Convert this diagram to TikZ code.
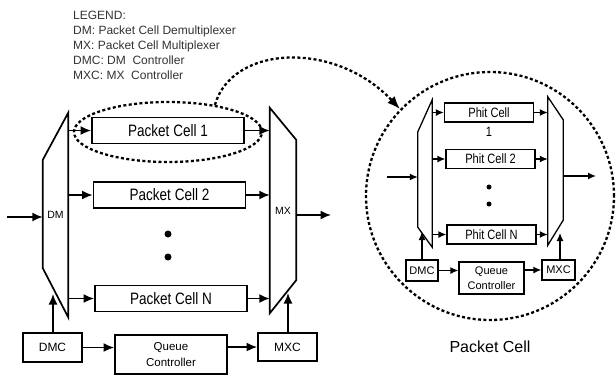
\documentclass[tikz,border=0pt]{standalone}
\usepackage{fontspec}
\setmainfont{Liberation Sans}
\newfontfamily\condsf[FakeStretch=0.82]{Liberation Sans}
\usetikzlibrary{shapes.geometric, arrows.meta, positioning, calc}
\definecolor{legendgray}{RGB}{50,50,50}

\begin{document}
\begin{tikzpicture}[x=1pt, y=-1pt,
    cellbox/.style={draw, line width=1.7pt, minimum width=152pt, minimum height=26pt, inner sep=0pt, font=\condsf\fontsize{16.5}{18}\selectfont},
    ctrlbox/.style={draw, line width=1.7pt, inner sep=0pt, align=center, font=\fontsize{11.5}{16}\selectfont},
    phitbox/.style={draw, line width=1.3pt, minimum width=89pt, minimum height=19pt, inner sep=0pt, font=\condsf\fontsize{13.5}{15}\selectfont},
    smallctrl/.style={draw, line width=1.3pt, inner sep=0pt, align=center, font=\fontsize{11}{15}\selectfont},
    muxnode/.style={inner sep=0pt, font=\fontsize{10.5}{12}\selectfont},
    muxline/.style={line width=1.7pt, line join=miter},
    arr/.style={line width=1.7pt, -{Latex[length=10.5pt, width=9pt]}},
    smallarr/.style={line width=1.3pt, -{Latex[length=8pt, width=7pt]}},
    zoomline/.style={line width=2.3pt, dash pattern=on 3pt off 2.4pt},
    dotmark/.style={circle, fill, inner sep=0pt, minimum size=#1}
]
    \useasboundingbox (0,0) rectangle (616,376);

    % Legend
    \node[anchor=north west, align=left, inner sep=0pt, text=legendgray,
          font=\fontsize{12}{15.2}\selectfont] (legend) at (73,10.5)
        {LEGEND:\\DM: Packet Cell Demultiplexer\\MX: Packet Cell Multiplexer\\DMC: DM~ Controller\\MXC: MX~ Controller};

    % Packet switch: DM, cells, MX
    \node[muxnode, minimum width=25pt, minimum height=204pt] (dm) at (55.5,215) {DM};
    \node[muxnode, minimum width=26pt, minimum height=205pt] (mx) at (283,210.5) {MX};
    \draw[muxline] (dm.north east) -- (dm.south east) -- ([yshift=49pt]dm.south west)
        -- ([yshift=-47pt]dm.north west) -- cycle;
    \draw[muxline] (mx.north west) -- (mx.south west) -- ([yshift=33pt]mx.south east)
        -- ([yshift=-32pt]mx.north east) -- cycle;

    \node[cellbox] (pc1) at (168,130.5) {Packet Cell 1};
    \node[cellbox] (pc2) at (169.5,195) {Packet Cell 2};
    \node[cellbox] (pcn) at (171,298.5) {Packet Cell N};
    \node[dotmark=7pt] (dot1) at (168,234) {};
    \node[dotmark=7pt] (dot2) at (168,257) {};

    \foreach \c in {pc1,pc2,pcn} {
        \draw[arr] (dm.east |- \c.west) -- (\c.west);
        \draw[arr] (\c.east) -- (mx.west |- \c.east);
    }

    \coordinate (in) at (7,217);
    \coordinate (out) at (331,215);
    \draw[arr] (in) -- (in -| dm.west);
    \draw[arr] (out -| mx.east) -- (out);

    % Controllers
    \node[ctrlbox, minimum width=59pt, minimum height=29pt, font=\fontsize{12}{14}\selectfont] (dmc) at (52.5,347.5) {DMC};
    \node[ctrlbox, minimum width=112pt, minimum height=39pt] (qc) at (171,354.5) {Queue\\Controller};
    \node[ctrlbox, minimum width=59pt, minimum height=28pt, font=\fontsize{12}{14}\selectfont] (mxc) at (287.5,347) {MXC};
    \draw[arr] (dmc.east) -- (qc.west |- dmc.east);
    \draw[arr] (qc.east |- mxc.west) -- (mxc.west);
    \coordinate (dmtip) at (53,294);
    \coordinate (mxtip) at (288,293);
    \draw[arr] (dmc.north -| dmtip) -- (dmtip);
    \draw[arr] (mxc.north -| mxtip) -- (mxtip);

    % Zoom on one packet cell
    \node[draw, ellipse, zoomline, minimum width=188pt, minimum height=60pt, inner sep=0pt] (zoom) at (168,132) {};
    \node[draw, circle, zoomline, minimum size=248pt, inner sep=0pt] (pcirc) at (490,196) {};
    \draw[zoomline, -{Latex[length=13pt, width=10pt]}] (zoom.30) .. controls (232,45) and (335,40) .. (pcirc.136);

    % Packet cell: DM, phit cells, MX
    \node[muxnode, minimum width=14pt, minimum height=147pt] (pdm) at (425,173.5) {};
    \node[muxnode, minimum width=15pt, minimum height=148pt] (pmx) at (555.5,171) {};
    \draw[muxline, line width=1.3pt] (pdm.north east) -- (pdm.south east) -- ([yshift=20pt]pdm.south west)
        -- ([yshift=-32pt]pdm.north west) -- cycle;
    \draw[muxline, line width=1.3pt] (pmx.north west) -- (pmx.south west) -- ([yshift=25pt]pmx.south east)
        -- ([yshift=-23pt]pmx.north east) -- cycle;

    \node[phitbox] (ph1) at (489,112.5) {Phit Cell};
    \node[font=\condsf\fontsize{13.5}{15}\selectfont, inner sep=0pt] (ph1num) at (489,132) {1};
    \node[phitbox] (ph2) at (490.5,159) {Phit Cell 2};
    \node[phitbox] (phn) at (491.5,234.5) {Phit Cell N};
    \node[dotmark=5pt] (pdot1) at (489,187) {};
    \node[dotmark=5pt] (pdot2) at (489,204) {};

    \foreach \c in {ph1,ph2,phn} {
        \draw[smallarr] (pdm.east |- \c.west) -- (\c.west);
        \draw[smallarr] (\c.east) -- (pmx.west |- \c.east);
    }

    \coordinate (pin) at (387,177);
    \coordinate (pout) at (596,176);
    \draw[smallarr] (pin) -- (pin -| pdm.west);
    \draw[smallarr] (pout -| pmx.east) -- (pout);

    \node[smallctrl, minimum width=32pt, minimum height=21pt] (pdmc) at (422,270.5) {DMC};
    \node[smallctrl, minimum width=65pt, minimum height=32pt] (pqc) at (491.5,278) {Queue\\Controller};
    \node[smallctrl, minimum width=33pt, minimum height=20pt] (pmxc) at (558.5,270) {MXC};
    \draw[smallarr] (pdmc.east) -- (pqc.west |- pdmc.east);
    \draw[smallarr] (pqc.east |- pmxc.west) -- (pmxc.west);
    \coordinate (pdmtip) at (422,232);
    \coordinate (pmxtip) at (560,233);
    \draw[smallarr] (pdmc.north -| pdmtip) -- (pdmtip);
    \draw[smallarr] (pmxc.north -| pmxtip) -- (pmxtip);

    \node[font=\fontsize{16}{18}\selectfont, inner sep=0pt] (caption) at (490,347) {Packet Cell};
\end{tikzpicture}
\end{document}
